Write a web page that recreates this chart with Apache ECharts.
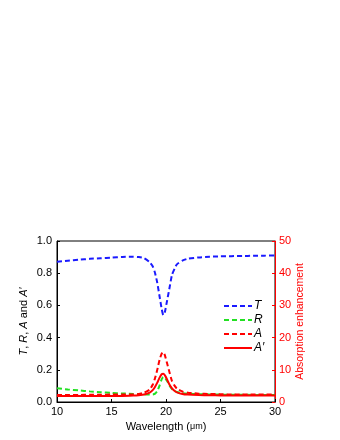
<!DOCTYPE html>
<html>
<head>
<meta charset="utf-8">
<script src="https://cdn.jsdelivr.net/npm/echarts@6/dist/echarts.min.js"></script>
<style>
  html, body { margin: 0; padding: 0; background: #fff; }
  #chart { width: 340px; height: 440px; }
</style>
</head>
<body>
<div id="chart"></div>
<script>
// wavelength in um
var wavelength = [10, 11, 12, 13, 14, 15, 16, 17, 17.5, 18, 18.5, 18.8, 19, 19.2, 19.4, 19.6, 19.75, 19.9, 20.1, 20.3, 20.55, 20.8, 21, 21.5, 22, 23, 24, 25, 26, 27, 28, 29, 30];
var transT = [0.871, 0.878, 0.884, 0.889, 0.893, 0.897, 0.901, 0.902, 0.9, 0.893, 0.868, 0.84, 0.80, 0.74, 0.66, 0.58, 0.54, 0.56, 0.63, 0.70, 0.79, 0.83, 0.855, 0.878, 0.89, 0.898, 0.902, 0.905, 0.906, 0.907, 0.908, 0.909, 0.91];
var reflR = [0.085, 0.078, 0.072, 0.066, 0.061, 0.057, 0.053, 0.05, 0.048, 0.047, 0.046, 0.047, 0.052, 0.068, 0.10, 0.14, 0.155, 0.15, 0.13, 0.105, 0.08, 0.068, 0.062, 0.055, 0.052, 0.049, 0.047, 0.046, 0.045, 0.045, 0.044, 0.044, 0.044];
var absA = [0.044, 0.044, 0.044, 0.045, 0.045, 0.046, 0.046, 0.048, 0.05, 0.058, 0.077, 0.11, 0.15, 0.2, 0.26, 0.30, 0.31, 0.29, 0.24, 0.19, 0.13, 0.1, 0.083, 0.065, 0.058, 0.052, 0.05, 0.048, 0.047, 0.047, 0.046, 0.046, 0.046];
var absA2 = [0.037, 0.037, 0.037, 0.037, 0.038, 0.038, 0.038, 0.04, 0.042, 0.046, 0.058, 0.075, 0.095, 0.12, 0.15, 0.172, 0.175, 0.165, 0.14, 0.11, 0.085, 0.068, 0.06, 0.05, 0.046, 0.043, 0.042, 0.041, 0.041, 0.04, 0.04, 0.04, 0.04];
var leftTicks = [0, 1, 0.2];
var rightTicks = [0, 50, 10];

function pairs(ys) {
  return wavelength.map(function (x, i) { return [x, ys[i]]; });
}

var chart = echarts.init(document.getElementById('chart'));
var font = 'Liberation Sans, Arial, sans-serif';
var dash = [5, 3];

chart.setOption({
  backgroundColor: '#fff',
  animation: false,
  textStyle: { fontFamily: font },
  grid: {
    left: 57, right: 65, top: 241, bottom: 38,
    show: true, borderColor: '#000', borderWidth: 1
  },
  legend: {
    orient: 'vertical',
    left: 218, top: 295,
    itemWidth: 28, itemHeight: 10, itemGap: 2,
    itemStyle: { opacity: 0 },
    textStyle: { fontStyle: 'italic', fontSize: 12, lineHeight: 11, color: '#000', fontFamily: font, padding: [0, 0, 0, -3] },
    data: ['T', 'R', 'A', 'A′']
  },
  xAxis: {
    type: 'value', min: 10, max: 30, interval: 5,
    name: 'Wavelength ({s|μm})',
    nameLocation: 'middle', nameGap: 19, nameMoveOverlap: false,
    nameTextStyle: { fontSize: 11, color: '#000', rich: { s: { fontSize: 9, color: '#000' } } },
    axisLine: { lineStyle: { color: '#000', width: 1 } },
    axisTick: { inside: true, length: 3, lineStyle: { color: '#000' } },
    axisLabel: { fontSize: 11, color: '#000', margin: 4 },
    splitLine: { show: false }
  },
  yAxis: [{
    type: 'value', min: leftTicks[0], max: leftTicks[1], interval: leftTicks[2],
    name: '{i|T}, {i|R}, {i|A} and {i|A′}',
    nameLocation: 'middle', nameGap: 28, nameRotate: 90, nameMoveOverlap: false,
    nameTextStyle: { fontSize: 11, color: '#000', rich: { i: { fontStyle: 'italic', fontSize: 11, color: '#000' } } },
    axisLine: { show: true, lineStyle: { color: '#000', width: 1 } },
    axisTick: { show: true, inside: true, length: 3, lineStyle: { color: '#000' } },
    axisLabel: { fontSize: 11, color: '#000', margin: 5, formatter: function (v) { return v.toFixed(1); } },
    splitLine: { show: false }
  }, {
    type: 'value', min: rightTicks[0], max: rightTicks[1], interval: rightTicks[2],
    position: 'right',
    name: 'Absorption enhancement',
    nameLocation: 'middle', nameGap: 20, nameRotate: 90, nameMoveOverlap: false,
    nameTextStyle: { fontSize: 10.5, color: '#ff0000' },
    axisLine: { show: true, lineStyle: { color: '#ff0000', width: 1 } },
    axisTick: { show: true, inside: true, length: 3, lineStyle: { color: '#ff0000' } },
    axisLabel: { fontSize: 11, color: '#ff0000', margin: 4 },
    splitLine: { show: false }
  }],
  series: [
    { name: 'T', type: 'line', data: pairs(transT), smooth: 0.2, symbol: 'none', lineStyle: { color: '#1a1aff', width: 2, type: dash }, itemStyle: { color: '#1a1aff' } },
    { name: 'R', type: 'line', data: pairs(reflR), smooth: 0.2, symbol: 'none', lineStyle: { color: '#22e022', width: 2, type: dash }, itemStyle: { color: '#22e022' } },
    { name: 'A', type: 'line', data: pairs(absA), smooth: 0.2, symbol: 'none', lineStyle: { color: '#ff0000', width: 2, type: dash }, itemStyle: { color: '#ff0000' } },
    { name: 'A′', type: 'line', data: pairs(absA2), smooth: 0.2, symbol: 'none', lineStyle: { color: '#ff0000', width: 2 }, itemStyle: { color: '#ff0000' } }
  ]
});
</script>
</body>
</html>
